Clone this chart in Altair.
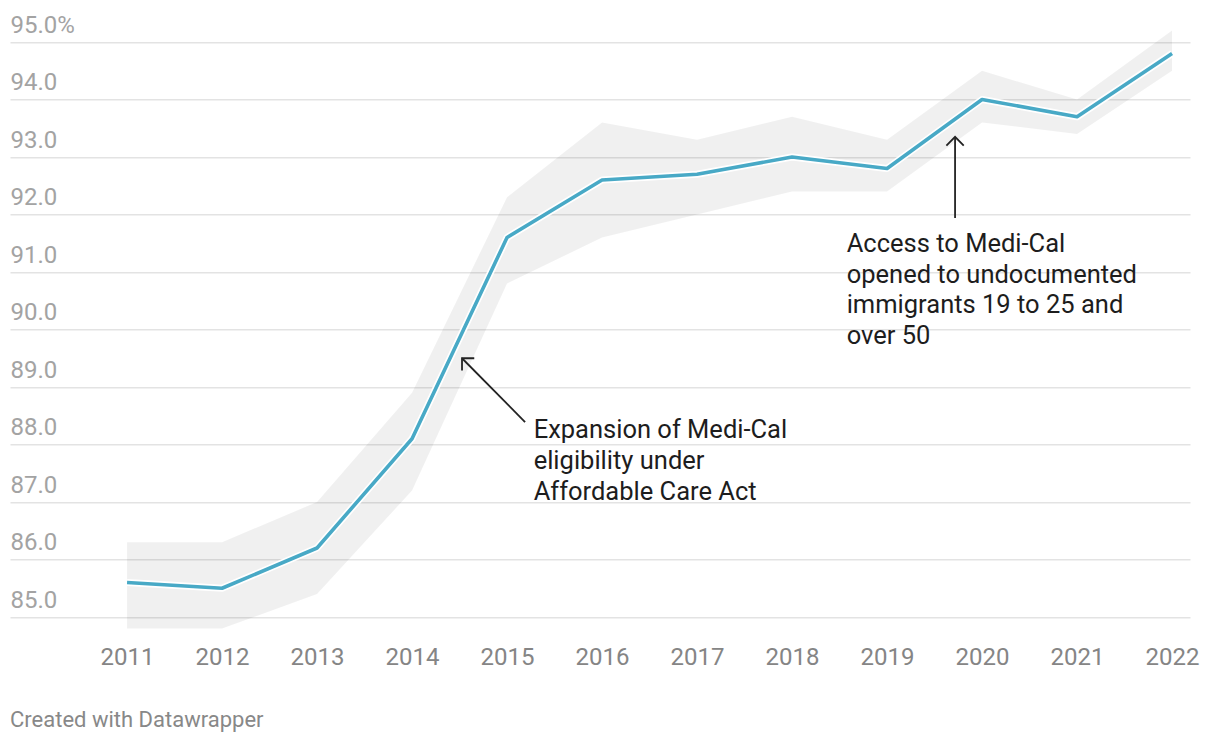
import altair as alt
import pandas as pd

# ---- data ----
years = [2011, 2012, 2013, 2014, 2015, 2016, 2017, 2018, 2019, 2020, 2021, 2022]
rate = [85.6, 85.5, 86.2, 88.1, 91.6, 92.6, 92.7, 93.0, 92.8, 94.0, 93.7, 94.8]
upper = [86.3, 86.3, 87.0, 88.9, 92.3, 93.6, 93.3, 93.7, 93.3, 94.5, 94.0, 95.2]
lower = [84.8, 84.8, 85.4, 87.2, 90.8, 91.6, 92.0, 92.4, 92.4, 93.6, 93.4, 94.5]
y_ticks = [85, 86, 87, 88, 89, 90, 91, 92, 93, 94, 95]

note_text = [
    "Expansion of Medi-Cal\neligibility under\nAffordable Care Act",
    "Access to Medi-Cal\nopened to undocumented\nimmigrants 19 to 25 and\nover 50",
]
note_x = [2015.28, 2018.575]
note_y = [88.46, 91.70]

arrow_x1 = [2015.19, 2019.716]
arrow_y1 = [88.39, 91.94]
arrow_x2 = [2014.526, 2019.716]
arrow_y2 = [89.50, 93.35]
arrow_angle = [315, 0]

df = pd.DataFrame({"year": years, "rate": rate, "upper": upper, "lower": lower})
notes = pd.DataFrame({"x": note_x, "y": note_y, "text": note_text})
arrows = pd.DataFrame({"x1": arrow_x1, "y1": arrow_y1, "x2": arrow_x2, "y2": arrow_y2, "angle": arrow_angle})

FONT = "Roboto"
xscale = alt.Scale(domain=[2009.768, 2022.189], nice=False, zero=False)
yscale = alt.Scale(domain=[84.5, 95.5], nice=False, zero=False)

x_axis = alt.Axis(
    values=years, format="d", grid=False, domain=False, ticks=False,
    labelFont=FONT, labelFontSize=24, labelColor="#858585", labelPadding=0,
    title=None,
)
y_axis = alt.Axis(
    values=y_ticks,
    labelExpr="datum.value == 95 ? format(datum.value, '.1f') + '%' : format(datum.value, '.1f')",
    grid=True, gridColor="#e3e3e3", gridWidth=1.3, domain=False, ticks=False, tickSize=0,
    labelAlign="left", labelBaseline="alphabetic", labelOffset=-10, labelPadding=0,
    labelFont=FONT, labelFontSize=24, labelColor="#a3a3a3", title=None,
)

base = alt.Chart(df)
band = base.mark_area(color="#000000", opacity=0.06).encode(
    x=alt.X("year:Q", scale=xscale, axis=x_axis),
    y=alt.Y("upper:Q", scale=yscale, axis=y_axis),
    y2="lower:Q",
)
halo = base.mark_line(color="white", strokeWidth=7, strokeJoin="round").encode(
    x=alt.X("year:Q", scale=xscale), y=alt.Y("rate:Q", scale=yscale)
)
line = base.mark_line(color="#48a9c6", strokeWidth=3.6, strokeJoin="round").encode(
    x=alt.X("year:Q", scale=xscale), y=alt.Y("rate:Q", scale=yscale)
)

shafts = alt.Chart(arrows).mark_rule(color="#222222", strokeWidth=1.8).encode(
    x=alt.X("x1:Q", scale=xscale), y=alt.Y("y1:Q", scale=yscale),
    x2="x2:Q", y2="y2:Q",
)
heads = alt.Chart(arrows).mark_point(
    shape="M -1 1 L 0 0 L 1 1", filled=False, color="#222222", strokeWidth=1.8,
    size=300, opacity=1,
).encode(
    x=alt.X("x2:Q", scale=xscale), y=alt.Y("y2:Q", scale=yscale),
    angle=alt.Angle("angle:Q", scale=None),
)

texts = alt.Chart(notes).mark_text(
    align="left", baseline="top", font=FONT, fontSize=25.5, color="#1d1d1d",
    lineBreak="\n", lineHeight=30.8,
).encode(
    x=alt.X("x:Q", scale=xscale), y=alt.Y("y:Q", scale=yscale), text="text:N"
)

chart = alt.layer(band, halo, line, shafts, heads, texts).properties(
    width=1180, height=632.5,
    padding={"left": 10, "top": 13.25, "right": 30, "bottom": 102.25},
    autosize="none",
    background="white",
    title=alt.TitleParams(
        text="Created with Datawrapper", orient="bottom", anchor="start",
        font=FONT, fontSize=22, fontWeight="normal", color="#888888", offset=40,
    ),
).configure_view(stroke=None)

chart.save("out.html", embed_options={"renderer": "svg", "actions": False})
